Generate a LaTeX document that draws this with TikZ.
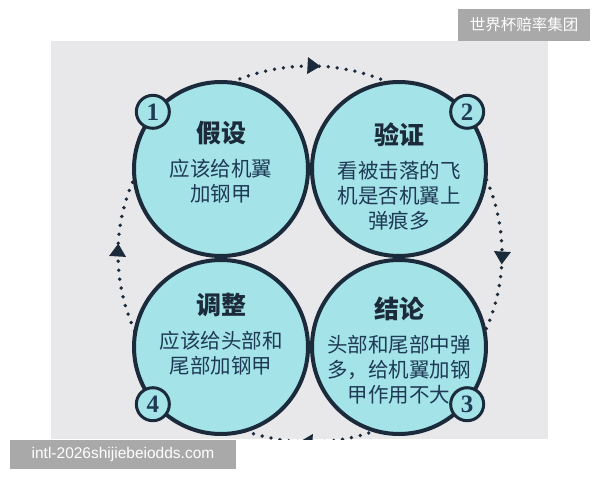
\documentclass[tikz,border=0pt]{standalone}
\usepackage{fontspec}
\setmainfont{Noto Sans CJK SC}
\newfontfamily\numfont{Liberation Serif}
\newfontfamily\markfont{Liberation Sans}
\usetikzlibrary{arrows.meta, positioning, decorations.markings}
\definecolor{panelgray}{HTML}{E8E8EA}
\definecolor{stagefill}{HTML}{A4E3E8}
\definecolor{rimnavy}{HTML}{1B2B3B}
\definecolor{inknavy}{HTML}{1E3A55}
\definecolor{wmgray}{HTML}{A9A9A9}
\tikzstyle{stage} = [circle, draw=rimnavy, line width=4pt, fill=stagefill, minimum size=174pt, inner sep=0pt]
\tikzstyle{badge} = [circle, draw=rimnavy, line width=3pt, fill=stagefill, minimum size=33pt, inner sep=0pt, font=\numfont\bfseries\fontsize{25}{25}\selectfont, text=inknavy]
\tikzstyle{headline} = [font=\bfseries\fontsize{25}{28}\selectfont, text=rimnavy, inner sep=0pt]
\tikzstyle{bodytext} = [font=\fontsize{20.5}{25}\selectfont, text=inknavy, align=center, inner sep=0pt]
\tikzstyle{cycle} = [line width=3.8pt, line cap=round, dash pattern=on 0pt off 9pt, draw=rimnavy, postaction={decorate}, decoration={markings,
    mark=at position 0.133 with {\arrow{Triangle[length=13pt, width=16pt]}},
    mark=at position 0.383 with {\arrow{Triangle[length=13pt, width=16pt]}},
    mark=at position 0.633 with {\arrow{Triangle[length=13pt, width=16pt]}},
    mark=at position 0.883 with {\arrow{Triangle[length=13pt, width=16pt]}}}]
\tikzstyle{wmark} = [fill=wmgray, text=white, inner sep=0pt]

\begin{document}
\begin{tikzpicture}[x=1pt, y=1pt]
        \useasboundingbox (0,0) rectangle (600,480);
        \fill[panelgray] (51,41) rectangle (548,439);
        \begin{scope}
            \clip (51,41) rectangle (548,439);
            \draw[cycle] (310,226) ++(45:192 and 188) arc[start angle=45, end angle=-315, x radius=192, y radius=188];
        \end{scope}

        \node[stage] (assume) at (221,311) {};
        \node[stage] (verify) at (399,311) {};
        \node[stage] (conclude) at (399,133) {};
        \node[stage] (adjust) at (221,133) {};

        \node[badge] (n1) at (assume.140) {1};
        \node[badge] (n2) at (verify.40) {2};
        \node[badge] (n3) at (conclude.-40) {3};
        \node[badge] (n4) at (adjust.-140) {4};

        \node[headline] (assume-title) at ([yshift=36pt]assume.center) {假设};
        \node[bodytext, below=14pt of assume-title] (assume-text) {应该给机翼\\加钢甲};
        \node[headline] (verify-title) at ([yshift=34pt]verify.center) {验证};
        \node[bodytext, below=14pt of verify-title] (verify-text) {看被击落的飞\\机是否机翼上\\弹痕多};
        \node[headline] (conclude-title) at ([yshift=38pt]conclude.center) {结论};
        \node[bodytext, below=14pt of conclude-title] (conclude-text) {头部和尾部中弹\\多，给机翼加钢\\甲作用不大};
        \node[headline] (adjust-title) at ([yshift=42pt]adjust.center) {调整};
        \node[bodytext, below=14pt of adjust-title] (adjust-text) {应该给头部和\\尾部加钢甲};

        \node[wmark, minimum width=132pt, minimum height=32pt] (brand) at (524,455) {\fontsize{15.5}{16}\selectfont 世界杯赔率集团};
        \node[wmark, minimum width=226pt, minimum height=29pt] (site) at (123,25.5) {\markfont\fontsize{15.5}{16}\selectfont intl-2026shijiebeiodds.com};
    \end{tikzpicture}
\end{document}
